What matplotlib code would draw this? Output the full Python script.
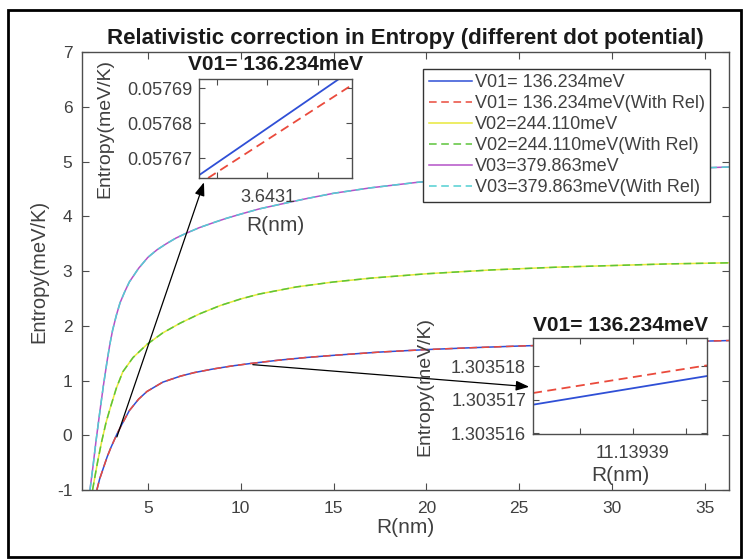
import matplotlib
matplotlib.use("Agg")
import matplotlib.pyplot as plt
from matplotlib.patches import Rectangle

plt.rcParams["font.family"] = ["Liberation Sans", "DejaVu Sans"]
plt.rcParams["axes.unicode_minus"] = False

# ── Data ──────────────────────────────────────────────────────────────────────
# At this scale the "With Rel" curves sit on top of the plain ones,
# so each pair shares the same samples in the main axes.
r_v01 = [2.25, 2.4, 2.6, 2.8, 3.0, 3.33, 3.6, 4.0, 4.5, 4.95, 5.8, 6.75, 7.5,
         8.5, 9.5, 10.5, 12.0, 13.5, 15.0, 17.5, 20.0, 22.5, 25.0, 30.0, 36.3]
s_v01 = [-1.0, -0.8, -0.6, -0.4, -0.23, 0.02, 0.2, 0.45, 0.66, 0.8, 0.97, 1.08, 1.145,
         1.21, 1.265, 1.31, 1.37, 1.42, 1.46, 1.52, 1.565, 1.6, 1.63, 1.68, 1.73]

r_v02 = [2.02, 2.15, 2.3, 2.5, 2.75, 3.0, 3.3, 3.65, 4.2, 4.95, 5.8, 6.75, 7.8,
         8.9, 10.0, 11.0, 13.0, 15.0, 17.0, 20.0, 23.5, 27.0, 30.0, 33.0, 36.3]
s_v02 = [-1.0, -0.75, -0.47, -0.13, 0.24, 0.53, 0.86, 1.16, 1.42, 1.66, 1.87, 2.05,
         2.22, 2.37, 2.49, 2.58, 2.71, 2.8, 2.87, 2.95, 3.02, 3.07, 3.1, 3.13, 3.15]

r_v03 = [1.88, 2.05, 2.2, 2.4, 2.6, 2.8, 2.95, 3.1, 3.3, 3.5, 3.75, 4.0, 4.5, 5.0,
         5.5, 6.0, 6.5, 7.0, 7.75, 8.5, 9.2, 10.0, 11.0, 12.0, 13.5, 15.0, 17.0,
         19.5, 22.0, 25.0, 30.0, 36.3]
s_v03 = [-1.0, -0.55, -0.12, 0.4, 0.9, 1.35, 1.66, 1.92, 2.19, 2.42, 2.62, 2.8, 3.05, 3.25,
         3.39, 3.5, 3.6, 3.68, 3.79, 3.88, 3.96, 4.04, 4.135, 4.21, 4.32, 4.42, 4.52,
         4.62, 4.69, 4.75, 4.83, 4.9]

labels = ["V01= 136.234meV", "V01= 136.234meV(With Rel)",
          "V02=244.110meV", "V02=244.110meV(With Rel)",
          "V03=379.863meV", "V03=379.863meV(With Rel)"]
colors = ["#2f4fd6", "#ea4a3c", "#e8e83a", "#5cc43a", "#b452c8", "#52cfd2"]

# zoom 1 (around R = 3.6431)
z1_r = [3.643032, 3.643171]
z1_s = [0.0576651, 0.0576926]
z1_r_rel = [3.643041, 3.643184]
z1_s_rel = [0.0576643, 0.0576909]
z1_xticks = [3.64305, 3.6431, 3.64315]
z1_xticklabels = ["", "3.6431", ""]
z1_yticks = [0.05767, 0.05768, 0.05769]
z1_yticklabels = ["0.05767", "0.05768", "0.05769"]

# zoom 2 (around R = 11.13939)
z2_r = [11.1393806, 11.139397]
z2_s = [1.30351685, 1.30351771]
z2_s_rel = [1.3035172, 1.30351803]
z2_xticks = [11.139385, 11.13939, 11.139395]
z2_xticklabels = ["", "11.13939", ""]
z2_yticks = [1.303516, 1.303517, 1.303518]
z2_yticklabels = ["1.303516", "1.303517", "1.303518"]

# arrow start (on curve) -> arrow tip, main-axes data coords
arrow1 = ((3.33, -0.03), (8.02, 4.62))
arrow2 = ((10.65, 1.29), (25.54, 0.886))

TXT = "#404040"
SPINE = "#4d4d4d"
DASH = (0, (5, 3))

fig = plt.figure(figsize=(7.46, 5.59), dpi=100)

# ── Main axes ─────────────────────────────────────────────────────────────────
ax = fig.add_axes([0.1099, 0.1234, 0.8673, 0.7835])
ax.plot(r_v01, s_v01, color=colors[0], lw=1.1, label=labels[0])
ax.plot(r_v01, s_v01, color=colors[1], lw=1.1, ls=DASH, label=labels[1])
ax.plot(r_v02, s_v02, color=colors[2], lw=1.1, label=labels[2])
ax.plot(r_v02, s_v02, color=colors[3], lw=1.1, ls=DASH, label=labels[3])
ax.plot(r_v03, s_v03, color=colors[4], lw=1.1, label=labels[4])
ax.plot(r_v03, s_v03, color=colors[5], lw=1.1, ls=DASH, label=labels[5])

ax.set_xlim(1.45, 36.3)
ax.set_ylim(-1, 7)
ax.set_xticks([5, 10, 15, 20, 25, 30, 35])
ax.set_yticks(range(-1, 8))
ax.tick_params(direction="in", top=True, right=True, length=5, width=0.8,
               color=SPINE, labelcolor=TXT, labelsize=12.5)
ax.tick_params(axis="x", pad=8)
ax.tick_params(axis="y", pad=7)
for sp in ax.spines.values():
    sp.set_color(SPINE)
    sp.set_linewidth(1.0)
ax.set_xlabel("R(nm)", fontsize=15, color=TXT, labelpad=1)
ax.set_ylabel("Entropy(meV/K)", fontsize=14.5, color=TXT, labelpad=6)
ax.set_title("Relativistic correction in Entropy (different dot potential)",
             fontsize=16, fontweight="bold", color="#1a1a1a", pad=6)

leg = ax.legend(loc="upper right", bbox_to_anchor=(710 / 746, 1 - 69 / 559),
                bbox_transform=fig.transFigure, borderaxespad=0, fontsize=13,
                labelspacing=0.22, handlelength=2.4, handletextpad=0.15,
                borderpad=0.3, fancybox=False, framealpha=1)
leg.get_frame().set_edgecolor("#333333")
leg.get_frame().set_linewidth(1.0)
for t in leg.get_texts():
    t.set_color(TXT)

for (start, tip) in (arrow1, arrow2):
    ax.annotate("", xy=tip, xytext=start, xycoords="data", textcoords="data",
                arrowprops=dict(arrowstyle="-|>,head_length=0.8,head_width=0.3",
                                color="black", lw=0.9, shrinkA=0, shrinkB=0))


def style_inset(a):
    a.tick_params(direction="in", top=True, right=True, length=4, width=0.8,
                  color=SPINE, labelcolor=TXT, labelsize=13)
    a.tick_params(axis="x", pad=8)
    a.tick_params(axis="y", pad=5)
    for sp in a.spines.values():
        sp.set_color(SPINE)
        sp.set_linewidth(1.0)


# ── Inset 1 ───────────────────────────────────────────────────────────────────
in1 = fig.add_axes([0.2668, 0.6816, 0.2051, 0.1771])
in1.plot(z1_r, z1_s, color=colors[0], lw=1.3)
in1.plot(z1_r_rel, z1_s_rel, color=colors[1], ls=DASH, lw=1.3)
in1.set_xlim(3.643032, 3.643184)
in1.set_ylim(0.0576643, 0.0576926)
in1.set_xticks(z1_xticks)
in1.set_xticklabels(z1_xticklabels)
in1.set_yticks(z1_yticks)
in1.set_yticklabels(z1_yticklabels)
style_inset(in1)
in1.set_xlabel("R(nm)", fontsize=15, color=TXT, labelpad=7)
in1.set_ylabel("Entropy(meV/K)", fontsize=14, color=TXT, labelpad=9.5)
in1.set_title("V01= 136.234meV", fontsize=15, fontweight="bold",
              color="#1a1a1a", pad=6.5)

# ── Inset 2 ───────────────────────────────────────────────────────────────────
in2 = fig.add_axes([0.7145, 0.2236, 0.2332, 0.1717])
in2.plot(z2_r, z2_s, color=colors[0], lw=1.3)
in2.plot(z2_r, z2_s_rel, color=colors[1], ls=DASH, lw=1.3)
in2.set_xlim(11.1393806, 11.139397)
in2.set_ylim(1.30351597, 1.30351885)
in2.set_xticks(z2_xticks)
in2.set_xticklabels(z2_xticklabels)
in2.set_yticks(z2_yticks)
in2.set_yticklabels(z2_yticklabels)
style_inset(in2)
in2.set_xlabel("R(nm)", fontsize=15, color=TXT, labelpad=3)
in2.set_ylabel("Entropy(meV/K)", fontsize=14, color=TXT, labelpad=13)
in2.set_title("V01= 136.234meV", fontsize=15, fontweight="bold",
              color="#1a1a1a", pad=5)

# black frame around the whole figure
fig.patches.append(Rectangle((8 / 746, 2 / 559), 733 / 746, 547 / 559,
                             transform=fig.transFigure, fill=False,
                             edgecolor="black", lw=2))

fig.savefig("out.png", dpi=100)
